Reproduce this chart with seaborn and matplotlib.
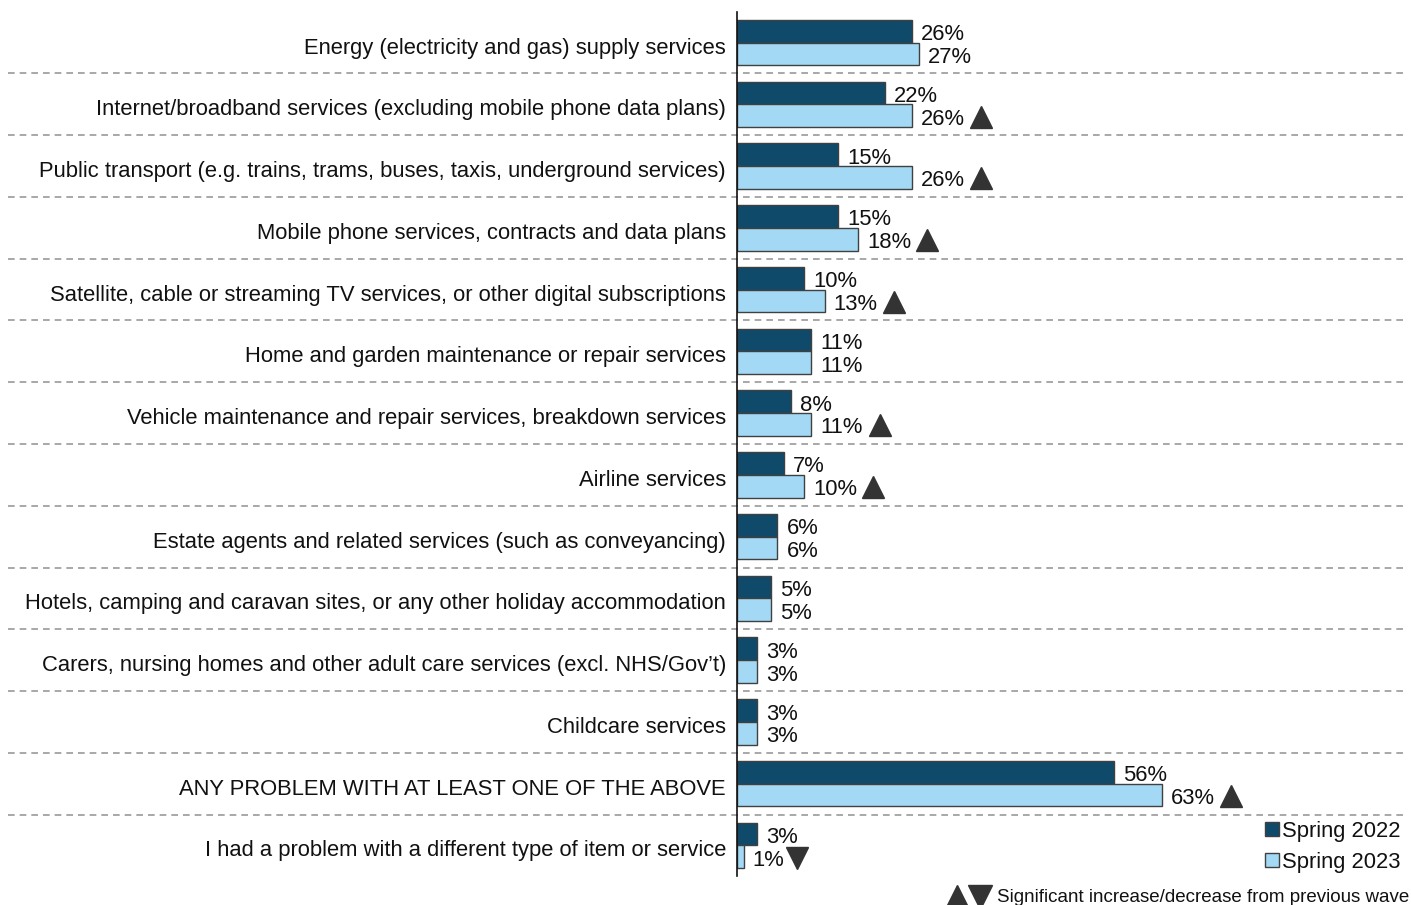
import matplotlib
matplotlib.use("Agg")
import matplotlib.pyplot as plt
import seaborn as sns
import pandas as pd
from matplotlib.lines import Line2D
from matplotlib.transforms import offset_copy, blended_transform_factory, ScaledTranslation

categories = [
    "Energy (electricity and gas) supply services",
    "Internet/broadband services (excluding mobile phone data plans)",
    "Public transport (e.g. trains, trams, buses, taxis, underground services)",
    "Mobile phone services, contracts and data plans",
    "Satellite, cable or streaming TV services, or other digital subscriptions",
    "Home and garden maintenance or repair services",
    "Vehicle maintenance and repair services, breakdown services",
    "Airline services",
    "Estate agents and related services (such as conveyancing)",
    "Hotels, camping and caravan sites, or any other holiday accommodation",
    "Carers, nursing homes and other adult care services (excl. NHS/Gov\u2019t)",
    "Childcare services",
    "ANY PROBLEM WITH AT LEAST ONE OF THE ABOVE",
    "I had a problem with a different type of item or service",
]
spring_2022 = [26, 22, 15, 15, 10, 11, 8, 7, 6, 5, 3, 3, 56, 3]
spring_2023 = [27, 26, 26, 18, 13, 11, 11, 10, 6, 5, 3, 3, 63, 1]
change_2023 = ["", "up", "up", "up", "up", "", "up", "up", "", "", "", "", "up", "down"]
series = ["Spring 2022", "Spring 2023"]
note = "Significant increase/decrease from previous wave"

DARK = "#0f4a6a"
LIGHT = "#a3d9f5"
EDGE = "#404040"
TEXT = "#111111"
MARK = "#333333"
FS = 15.8

sns.set_theme(style="white")
plt.rcParams["font.family"] = ["Liberation Sans", "DejaVu Sans"]

n = len(categories)
df = pd.DataFrame({
    "category": categories * 2,
    "wave": [series[0]] * n + [series[1]] * n,
    "value": spring_2022 + spring_2023,
})

W, H = 1411, 905
fig = plt.figure(figsize=(W / 100, H / 100), dpi=100)
ax = fig.add_axes([737 / W, 1 - 876 / H, (W - 737) / W, (876 - 12) / H])

sns.barplot(data=df, y="category", x="value", hue="wave", order=categories,
            hue_order=series, palette=[DARK, LIGHT], saturation=1, width=0.737,
            edgecolor=EDGE, linewidth=1, orient="h", errorbar=None,
            legend=False, ax=ax)

ax.set_xlim(0, 100)
ax.set_ylim(13.494, -0.494)
ax.set_xlabel("")
ax.set_ylabel("")
ax.set_xticks([])
ax.tick_params(axis="y", length=0, pad=8, labelsize=FS, labelcolor=TEXT)
shift = ScaledTranslation(0, -3 / 100, fig.dpi_scale_trans)
for lab in ax.get_yticklabels():
    lab.set_transform(lab.get_transform() + shift)
for s in ["top", "right", "bottom"]:
    ax.spines[s].set_visible(False)
ax.spines["left"].set_color("#111111")
ax.spines["left"].set_linewidth(1.2)

# value labels on each bar
for cont, vals in zip(ax.containers, [spring_2022, spring_2023]):
    for bar, v in zip(cont, vals):
        yc = bar.get_y() + bar.get_height() / 2
        ax.annotate(f"{v}%", xy=(v, yc), xytext=(6.5, -2.5), textcoords="offset points",
                    va="center", ha="left", fontsize=FS, color=TEXT)

# significance markers after the Spring 2023 labels
for bar, v, c in zip(ax.containers[1], spring_2023, change_2023):
    if not c:
        continue
    yc = bar.get_y() + bar.get_height() / 2
    off = 69 if len(str(v)) > 1 else 53
    tr = offset_copy(ax.transData, fig=fig, x=off, y=-1, units="dots")
    ax.plot([v], [yc], marker="^" if c == "up" else "v", markersize=16,
            color=MARK, transform=tr, clip_on=False, linestyle="none")

# dashed separators between rows
bt = blended_transform_factory(ax.transAxes, ax.transData)
for i in range(n - 1):
    ax.plot([-1.082, 0.996], [i + 0.5, i + 0.5], transform=bt, clip_on=False,
            color="#9a9a9a", linewidth=1.2, linestyle=(0, (4, 3)))

# legend
handles = [Line2D([], [], marker="s", linestyle="none", markersize=9.5,
                  markerfacecolor=col, markeredgecolor=EDGE, markeredgewidth=1)
           for col in [DARK, LIGHT]]
ax.legend(handles, series, loc="lower right", bbox_to_anchor=(1400 / W, 1 - 873 / H),
          bbox_transform=fig.transFigure, frameon=False, fontsize=FS,
          handlelength=0.55, handletextpad=0.15, labelspacing=0.45,
          borderpad=0, borderaxespad=0, labelcolor=TEXT)

# footnote with the significance symbols
fy = 1 - 897 / H
fig.lines.append(Line2D([957 / W], [fy], marker="^", markersize=17, color=MARK,
                        transform=fig.transFigure, linestyle="none"))
fig.lines.append(Line2D([980 / W], [fy], marker="v", markersize=17, color=MARK,
                        transform=fig.transFigure, linestyle="none"))
fig.text(997 / W, fy, note, ha="left", va="center", fontsize=13.5, color=TEXT)

fig.savefig("out.png", dpi=100)
